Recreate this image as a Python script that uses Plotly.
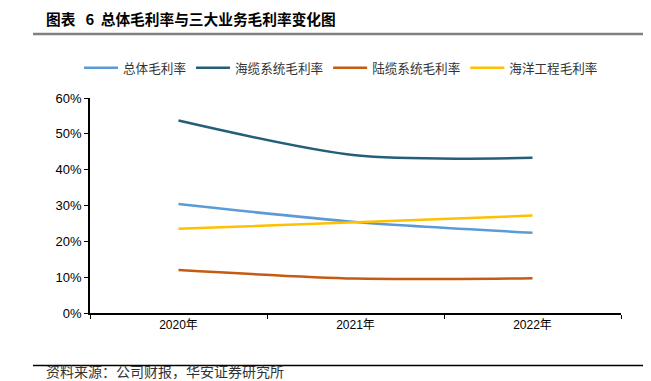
import plotly.graph_objects as go

years = ["2020年", "2021年", "2022年"]
total = [30.4, 25.4, 22.4]
subsea = [53.7, 44.0, 43.3]
land = [12.0, 9.6, 9.7]
marine = [23.5, 25.3, 27.2]
names = ["总体毛利率", "海缆系统毛利率", "陆缆系统毛利率", "海洋工程毛利率"]
colors = ["#5B9BD5", "#255E79", "#C55A11", "#FFC000"]

fig = go.Figure()
for name, vals, c in zip(names, [total, subsea, land, marine], colors):
    fig.add_trace(go.Scatter(
        x=years, y=[v / 100 for v in vals], name=name, mode="lines",
        line=dict(color=c, width=2.5, shape="spline", smoothing=0.8),
    ))

# page body has an 8px margin; work in page pixels and subtract it
OFF = 8
W, H = 651 - OFF, 381 - OFF
L, R, T, B = 90 - OFF, 30, 98 - OFF, 68
ph = H - T - B
pw = W - L - R

def py(pix):
    return (H - B - (pix - OFF)) / ph

def px(pix):
    return ((pix - OFF) - L) / pw

fig.update_layout(
    width=W, height=H,
    margin=dict(l=L, r=R, t=T, b=B, autoexpand=False),
    paper_bgcolor="white", plot_bgcolor="white",
    font=dict(family="Liberation Sans, Arial, Noto Sans CJK SC", size=12, color="#000000"),
    showlegend=True,
    legend=dict(orientation="h", x=px(79), xanchor="left", y=py(68), yanchor="middle",
                font=dict(family="Noto Sans CJK SC", size=12.6, color="#333333"),
                itemwidth=34, traceorder="normal", tracegroupgap=0),
    xaxis=dict(type="category", range=[-0.5, 2.5], showline=True, linecolor="#000000",
               linewidth=1.5, ticks="outside", tickson="boundaries", ticklen=4,
               tickcolor="#000000", showgrid=False, zeroline=False,
               tickfont=dict(family="Liberation Sans, Noto Sans CJK SC", size=12)),
    yaxis=dict(range=[0, 0.6], dtick=0.1, tickformat=".0%", showline=True,
               linecolor="#000000", linewidth=1.5, ticks="outside", ticklen=4,
               tickcolor="#000000", showgrid=False, zeroline=False,
               tickfont=dict(family="Liberation Sans, Arial", size=13)),
    shapes=[
        dict(type="line", xref="paper", yref="paper", x0=px(33), x1=px(651),
             y0=py(34), y1=py(34), line=dict(color="#808080", width=2.5)),
        dict(type="line", xref="paper", yref="paper", x0=px(33), x1=px(651),
             y0=py(365.5), y1=py(365.5), line=dict(color="#000000", width=1.5)),
    ],
    annotations=[
        dict(text="<b>图表&nbsp;&nbsp;&nbsp;6&nbsp;&nbsp;总体毛利率与三大业务毛利率变化图</b>",
             xref="paper", yref="paper",
             x=px(44), y=py(18), xanchor="left", yanchor="middle", showarrow=False,
             font=dict(family="Noto Sans CJK SC", size=14.7, color="#000000")),
        dict(text="资料来源：公司财报，华安证券研究所", xref="paper", yref="paper",
             x=px(44), y=py(383), xanchor="left", yanchor="bottom", showarrow=False,
             font=dict(family="Noto Sans CJK SC", size=14, color="#333333")),
    ],
)

fig.write_html("out.html")
